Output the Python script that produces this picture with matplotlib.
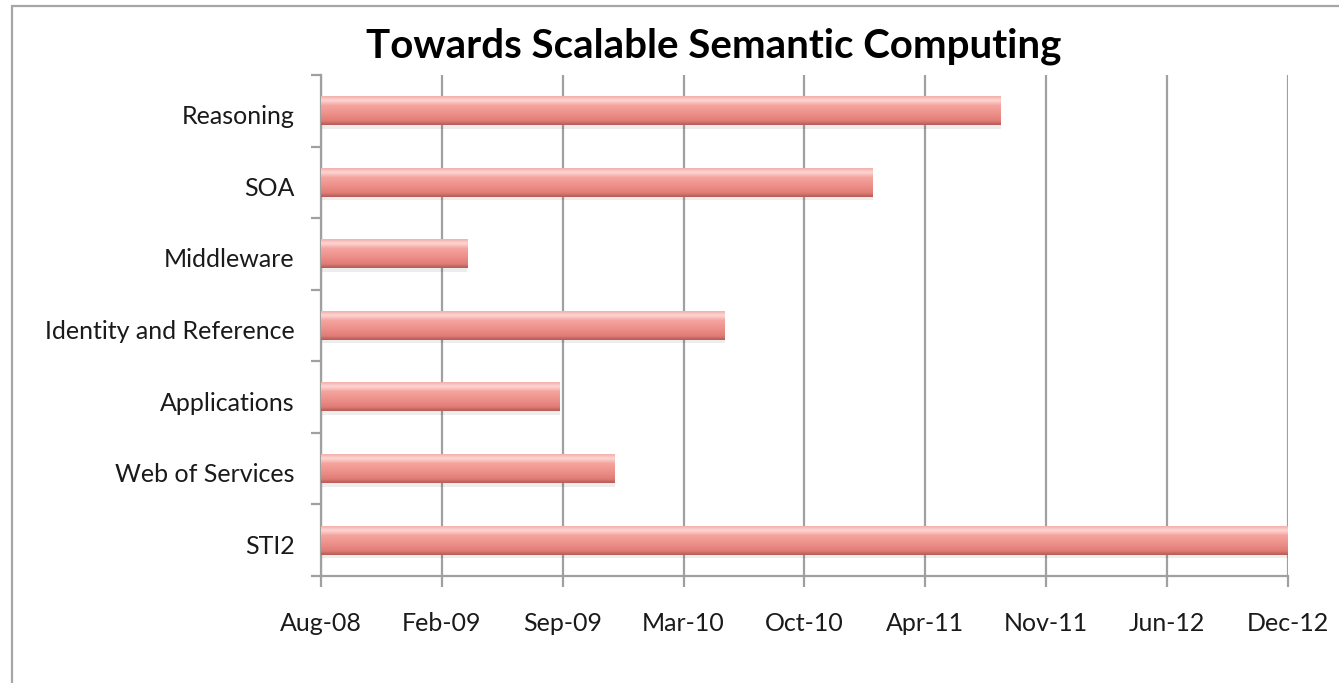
import matplotlib.pyplot as plt
import matplotlib.dates as mdates
import matplotlib.transforms as mtransforms
from matplotlib.colors import LinearSegmentedColormap
from matplotlib.patches import Rectangle
import numpy as np
import datetime as dt

# projects, drawn bottom to top
projects = ["STI2", "Web of Services", "Applications", "Identity and Reference",
            "Middleware", "SOA", "Reasoning"]
start_date = "2008-08-01"
end_dates = ["2012-12-18", "2009-11-30", "2009-08-31", "2010-05-31",
             "2009-03-31", "2011-01-31", "2011-08-31"]

plt.rcParams['font.family'] = ['Lato', 'DejaVu Sans']

t0 = mdates.date2num(dt.date.fromisoformat(start_date))
ends = [mdates.date2num(dt.date.fromisoformat(d)) for d in end_dates]
x_max = t0 + 1600

fig = plt.figure(figsize=(13.39, 6.83), dpi=100)
ax = fig.add_axes([321 / 1339, 1 - 576 / 683, (1288 - 321) / 1339, (576 - 75) / 683])

# chart border (Excel style)
fig.patches.append(Rectangle((12 / 1339, -0.1), 1.2, 1.1 - 6.5 / 683,
                             transform=fig.transFigure, fill=False,
                             edgecolor='#a6a6a6', linewidth=1.6))

# gradient for the glossy bars (top -> bottom)
bar_cmap = LinearSegmentedColormap.from_list("bar", [
    (0.0, '#f4b0ab'), (0.14, '#fcd6d3'), (0.32, '#f5a49e'),
    (0.6, '#ee918b'), (0.86, '#e07c76'), (1.0, '#b65c57')])
grad = np.linspace(0, 1, 64).reshape(-1, 1)

h = 0.40
for i, (name, e) in enumerate(zip(projects, ends)):
    # soft shadow below the bar
    ax.add_patch(Rectangle((t0, i - h / 2 - 0.05), e - t0, h, color='#000000',
                           alpha=0.07, linewidth=0, zorder=2))
    ax.imshow(grad, extent=[t0, e, i - h / 2, i + h / 2], cmap=bar_cmap,
              aspect='auto', origin='upper', zorder=3, interpolation='bilinear')

ax.set_xlim(t0, x_max)
ax.set_ylim(-0.5, len(projects) - 0.5)

xt = [t0 + 200 * k for k in range(9)]
ax.set_xticks(xt)
ax.set_xticklabels([mdates.num2date(v).strftime('%b-%y') for v in xt])
ax.set_yticks(range(len(projects)))
ax.set_yticklabels(projects)
ax.set_yticks(np.arange(-0.5, len(projects), 1), minor=True)

ax.grid(axis='x', color='#a0a0a0', linewidth=1.6, zorder=1)
ax.set_axisbelow(True)
for s in ['top', 'right']:
    ax.spines[s].set_visible(False)
for s in ['left', 'bottom']:
    ax.spines[s].set_color('#a0a0a0')
    ax.spines[s].set_linewidth(1.6)

ax.tick_params(axis='x', length=8, width=1.6, color='#a0a0a0', labelsize=18, pad=18,
               labelcolor='#1a1a1a')
ax.tick_params(axis='y', which='major', length=0, labelsize=18, pad=19,
               labelcolor='#1a1a1a')
ax.tick_params(axis='y', which='minor', length=7, width=1.6, color='#a0a0a0')

# category labels sit a little below the bar centre in the original
shift = mtransforms.ScaledTranslation(0, -4 / 100, fig.dpi_scale_trans)
for tick in ax.yaxis.get_major_ticks():
    tick.label1.set_transform(tick.label1.get_transform() + shift)

fig.text(0.533, 1 - 46 / 683, "Towards Scalable Semantic Computing", ha='center',
         va='center', fontsize=29, fontweight='bold', color='#000000')

fig.savefig("out.png", dpi=100)
